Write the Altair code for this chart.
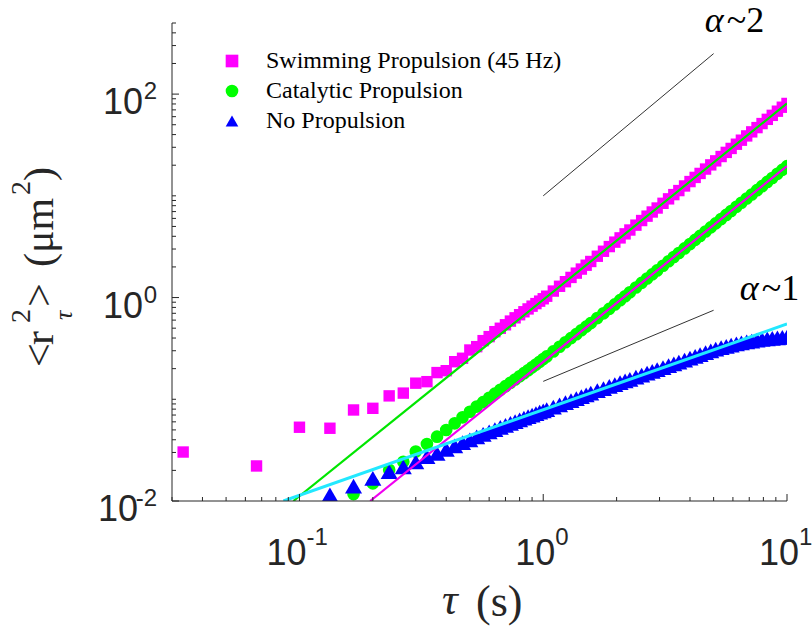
import altair as alt
import pandas as pd

# ---------------------------------------------------------------------------
# Mean squared displacement vs lag time (log-log)
# ---------------------------------------------------------------------------
FRAME_RATE = 30.0  # frames per second; lag time tau = frames / FRAME_RATE

lag_frames = list(range(1, 31)) + [
    31, 33, 35, 37, 39, 41, 43, 45, 47, 50, 53, 56, 59, 62, 65, 68, 72, 76,
    80, 84, 88, 93, 98, 103, 108, 114, 120, 126, 132, 139, 146, 153, 161,
    169, 177, 186, 195, 205, 215, 226, 237, 249, 261, 274, 287, 300,
]

msd_swimming = [
    0.0303, 0.0221, 0.0531, 0.0519, 0.0785, 0.0815, 0.108, 0.115, 0.144, 0.149,
    0.183, 0.191, 0.234, 0.253, 0.305, 0.329, 0.377, 0.413, 0.462, 0.499,
    0.54, 0.587, 0.632, 0.678, 0.725, 0.773, 0.823, 0.872, 0.922, 0.973,
    1.031, 1.158, 1.291, 1.432, 1.577, 1.738, 1.905, 2.079, 2.262, 2.548,
    2.852, 3.171, 3.506, 3.859, 4.228, 4.612, 5.150, 5.716, 6.313, 6.936,
    7.589, 8.442, 9.337, 10.28, 11.26, 12.50, 13.81, 15.17, 16.60, 18.33,
    20.15, 22.07, 24.34, 26.73, 29.23, 32.16, 35.23, 38.81, 42.54, 46.84,
    51.33, 56.48, 61.83, 67.92, 74.30, 80.91,
]

msd_catalytic = [
    None, None, None, None, 0.0117, 0.0149, 0.0203, 0.0243, 0.0306, 0.0363,
    0.0429, 0.0499, 0.0580, 0.0665, 0.0754, 0.0848, 0.0938, 0.1035, 0.1135, 0.1239,
    0.1345, 0.1455, 0.1566, 0.1685, 0.1806, 0.1930, 0.2060, 0.2194, 0.2337, 0.2483,
    0.2637, 0.2955, 0.3286, 0.3634, 0.3993, 0.4367, 0.4766, 0.5176, 0.5602, 0.6281,
    0.6997, 0.7743, 0.8558, 0.9419, 1.031, 1.125, 1.256, 1.394, 1.539, 1.690,
    1.848, 2.056, 2.273, 2.502, 2.741, 3.042, 3.357, 3.689, 4.034, 4.456,
    4.897, 5.359, 5.911, 6.492, 7.096, 7.806, 8.551, 9.410, 10.31, 11.36,
    12.44, 13.69, 14.98, 16.45, 17.99, 19.59,
]

msd_passive = [
    None, None, None, 0.0115, 0.0140, 0.0167, 0.0194, 0.0217, 0.0243, 0.0273,
    0.0294, 0.0322, 0.0348, 0.0374, 0.0400, 0.0426, 0.0452, 0.0477, 0.0503, 0.0529,
    0.0553, 0.0578, 0.0603, 0.0628, 0.0653, 0.0677, 0.0700, 0.0723, 0.0747, 0.0770,
    0.0793, 0.0838, 0.0883, 0.0928, 0.0972, 0.1016, 0.1060, 0.1104, 0.1148, 0.1215,
    0.1276, 0.1336, 0.1396, 0.1456, 0.1515, 0.1573, 0.1651, 0.1728, 0.1804, 0.1880,
    0.1955, 0.2048, 0.2140, 0.2233, 0.2323, 0.2431, 0.2539, 0.2645, 0.2750, 0.2872,
    0.2993, 0.3113, 0.3214, 0.3309, 0.3400, 0.3505, 0.3589, 0.3673, 0.3738, 0.3815,
    0.3870, 0.3934, 0.3964, 0.4018, 0.4066, 0.4083,
]

series_names = ["Swimming Propulsion (45 Hz)", "Catalytic Propulsion", "No Propulsion"]
series_colors = ["#FF00FF", "#00FF00", "#0000FF"]
series_shapes = ["square", "circle", "triangle-up"]
series_sizes = [130, 160, 290]

# power-law fits (end points of each straight line on log-log axes)
fit_swimming_tau = [0.0944, 10.0]
fit_swimming_msd = [0.01, 81.0]
fit_catalytic_tau = [0.195, 10.0]
fit_catalytic_msd = [0.01, 19.6]
fit_passive_tau = [0.0859, 10.0]
fit_passive_msd = [0.01, 0.55]

# slope guides
guide_ballistic_tau = [1.0, 5.0]
guide_ballistic_msd = [10.0, 250.0]
guide_diffusive_tau = [1.0, 5.0]
guide_diffusive_msd = [0.15, 0.75]

# axis ticks
x_major_ticks = [0.1, 1, 10]
x_minor_ticks = [0.03, 0.04, 0.05, 0.06, 0.07, 0.08, 0.09,
                 0.2, 0.3, 0.4, 0.5, 0.6, 0.7, 0.8, 0.9,
                 2, 3, 4, 5, 6, 7, 8, 9]
y_major_ticks = [0.01, 1, 100]
y_minor_ticks = [0.02, 0.03, 0.04, 0.05, 0.06, 0.07, 0.08, 0.09, 0.1,
                 0.2, 0.3, 0.4, 0.5, 0.6, 0.7, 0.8, 0.9,
                 2, 3, 4, 5, 6, 7, 8, 9, 10,
                 20, 30, 40, 50, 60, 70, 80, 90, 200, 300, 400, 500]
x_tick_labels = [(0.1, "-1"), (1, "0"), (10, "1")]
y_tick_labels = [(0.01, "-2"), (1, "0"), (100, "2")]

# ---------------------------------------------------------------------------
W, H = 615, 478
AXIS_COLOR = "#262626"
SANS = "Liberation Sans"
SERIF = "Liberation Serif"

x_scale = alt.Scale(type="log", domain=[0.03, 10], nice=False)
y_scale = alt.Scale(type="log", domain=[0.01, 500], nice=False)


def X(field):
    return alt.X(field, type="quantitative", scale=x_scale, axis=None)


def Y(field):
    return alt.Y(field, type="quantitative", scale=y_scale, axis=None)


legend = alt.Legend(
    title=None, orient="none", legendX=48, legendY=26, padding=0,
    labelFont=SERIF, labelFontSize=24, labelColor="black", labelOffset=22,
    labelLimit=0, rowPadding=6, symbolStrokeWidth=0, symbolOpacity=1,
    symbolSize=160,
)
color_enc = alt.Color("series:N", sort=series_names,
                      scale=alt.Scale(domain=series_names, range=series_colors),
                      legend=legend)
shape_enc = alt.Shape("series:N", sort=series_names,
                      scale=alt.Scale(domain=series_names, range=series_shapes),
                      legend=legend)

# one layer per series, drawn squares -> circles -> triangles
point_layers = []
for name, values, size in zip(series_names,
                              [msd_swimming, msd_catalytic, msd_passive],
                              series_sizes):
    df = pd.DataFrame({
        "tau": [f / FRAME_RATE for f, v in zip(lag_frames, values) if v is not None],
        "msd": [v for v in values if v is not None],
        "series": name,
    })
    point_layers.append(
        alt.Chart(df).mark_point(filled=True, opacity=1, strokeWidth=0,
                                 size=size, clip=True).encode(
            x=X("tau"), y=Y("msd"), color=color_enc, shape=shape_enc)
    )


def segment(taus, msds, color, width):
    df = pd.DataFrame({"tau": taus, "msd": msds})
    return alt.Chart(df).mark_line(color=color, strokeWidth=width, clip=True).encode(
        x=X("tau"), y=Y("msd")
    )


fits = [
    segment(fit_swimming_tau, fit_swimming_msd, "#00E600", 2.2),
    segment(fit_catalytic_tau, fit_catalytic_msd, "#F000F0", 2.2),
    segment(fit_passive_tau, fit_passive_msd, "#22E8FF", 3.0),
]
guides = [
    segment(guide_ballistic_tau, guide_ballistic_msd, "#333333", 1.0),
    segment(guide_diffusive_tau, guide_diffusive_msd, "#333333", 1.0),
]


def note(tau, msd, greek, rest, size=36):
    df = pd.DataFrame({"tau": [tau], "msd": [msd]})
    base = alt.Chart(df)
    a = base.mark_text(text=greek, font=SERIF, fontSize=size, fontStyle="italic",
                       align="left", baseline="alphabetic", color="black").encode(
        x=X("tau"), y=Y("msd"))
    b = base.mark_text(text=rest, font=SERIF, fontSize=size, align="left",
                       baseline="alphabetic", color="black", dx=22).encode(
        x=X("tau"), y=Y("msd"))
    return [a, b]


notes = note(4.6, 410, "α", "~2") + note(6.4, 0.95, "α", "~1")

# ---- axes drawn by hand so that ticks point inward --------------------------
axis_lines = [
    alt.Chart(pd.DataFrame({"k": [0]})).mark_rule(color=AXIS_COLOR, strokeWidth=1).encode(
        x=alt.value(0), y=alt.value(0), y2=alt.value(H)),
    alt.Chart(pd.DataFrame({"k": [0]})).mark_rule(color=AXIS_COLOR, strokeWidth=1).encode(
        x=alt.value(0), x2=alt.value(W), y=alt.value(H)),
]


def x_ticks(values, length):
    return alt.Chart(pd.DataFrame({"v": values})).mark_rule(
        color=AXIS_COLOR, strokeWidth=1).encode(
        x=X("v"), y=alt.value(H), y2=alt.value(H - length))


def y_ticks(values, length):
    return alt.Chart(pd.DataFrame({"v": values})).mark_rule(
        color=AXIS_COLOR, strokeWidth=1).encode(
        y=Y("v"), x=alt.value(0), x2=alt.value(length))


ticks = [x_ticks(x_major_ticks, 7), x_ticks(x_minor_ticks, 4),
         y_ticks(y_major_ticks, 7), y_ticks(y_minor_ticks, 4)]


def x_labels(pairs, shift):
    df = pd.DataFrame({"v": [p[0] for p in pairs], "e": [p[1] for p in pairs]})
    base = alt.Chart(df)
    ten = base.mark_text(text="10", font=SANS, fontSize=36, color=AXIS_COLOR,
                         align="right", baseline="alphabetic", dx=shift, dy=64).encode(
        x=X("v"), y=alt.value(H))
    exp = base.mark_text(font=SANS, fontSize=24, color=AXIS_COLOR,
                         align="left", baseline="alphabetic", dx=shift, dy=44).encode(
        x=X("v"), y=alt.value(H), text="e:N")
    return [ten, exp]


def y_labels(pairs, exp_width):
    df = pd.DataFrame({"v": [p[0] for p in pairs], "e": [p[1] for p in pairs]})
    base = alt.Chart(df)
    ten = base.mark_text(text="10", font=SANS, fontSize=36, color=AXIS_COLOR,
                         align="right", baseline="alphabetic", dy=20).encode(
        y=Y("v"), x=alt.value(-15 - exp_width))
    exp = base.mark_text(font=SANS, fontSize=24, color=AXIS_COLOR,
                         align="right", baseline="alphabetic", dy=5).encode(
        y=Y("v"), x=alt.value(-15), text="e:N")
    return [ten, exp]


labels = (x_labels([p for p in x_tick_labels if p[1].startswith("-")], 7)
          + x_labels([p for p in x_tick_labels if not p[1].startswith("-")], 12)
          + y_labels([p for p in y_tick_labels if p[1].startswith("-")], 19)
          + y_labels([p for p in y_tick_labels if not p[1].startswith("-")], 14))


def free_text(txt, px, py, size, style="normal", angle=0, font=SERIF):
    return alt.Chart(pd.DataFrame({"t": [txt]})).mark_text(
        font=font, fontSize=size, fontStyle=style, angle=angle, align="left",
        baseline="alphabetic", color=AXIS_COLOR).encode(
        text="t:N", x=alt.value(px), y=alt.value(py))


titles = [
    # x title: tau (s)
    free_text("τ", 270, 591, 44, style="italic"),
    free_text("(s)", 304, 593, 44),
    # y title: <r^2_tau> (um^2), rotated
    free_text("<", -119, 344, 42, angle=270),
    free_text("r", -119, 322, 42, angle=270),
    free_text("2", -142, 300, 28, angle=270),
    free_text("τ", -100, 297, 26, style="italic", angle=270),
    free_text(">", -119, 284, 42, angle=270),
    free_text("(μm", -119, 244, 42, angle=270),
    free_text("2", -142, 172, 28, angle=270),
    free_text(")", -119, 158, 42, angle=270),
]

chart = alt.layer(
    *point_layers, *fits, *guides, *notes, *axis_lines, *ticks, *labels, *titles
).properties(
    width=W, height=H,
    autosize=alt.AutoSizeParams(type="none"),
    padding={"left": 172, "top": 23, "right": 25, "bottom": 125},
    background="white",
).configure_view(stroke=None)

chart.save("out.html", embed_options={"renderer": "svg", "actions": False})
